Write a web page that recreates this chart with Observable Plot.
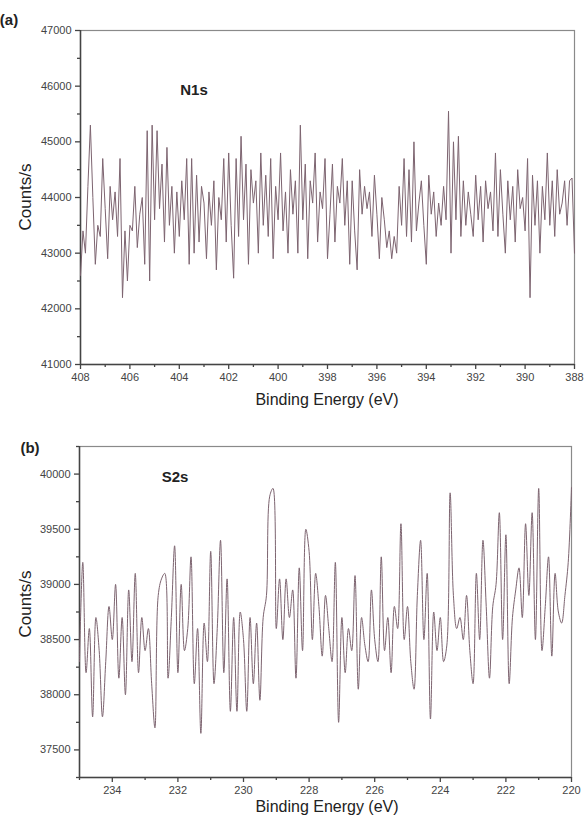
<!DOCTYPE html>
<html>
<head>
<meta charset="utf-8">
<script src="https://cdn.jsdelivr.net/npm/d3@7"></script>
<script src="https://cdn.jsdelivr.net/npm/@observablehq/plot@0.6"></script>
<style>
  html, body { margin: 0; padding: 0; background: #fff; }
  #wrap { width: 586px; }
  svg { display: block; }
</style>
</head>
<body>
<div id="wrap"></div>
<script>
// ---------- Panel (a): N1s ----------
const n1sStart = 408.0;   // binding energy of first value (eV)
const n1sStep = -0.1;     // eV step
const n1sCounts = [
  42600, 43400, 43000, 44200, 45300, 44000, 42800, 43500, 43300, 44700, // 408.0-407.1
  43800, 42900, 44200, 43600, 44100, 43300, 44700, 42200, 43400, 42500, // 407.0-406.1
  43500, 43400, 44200, 43100, 43700, 44000, 42800, 45200, 42500, 45300, // 406.0-405.1
  43600, 45200, 43800, 44600, 43200, 44900, 43500, 44200, 43000, 44100, // 405.0-404.1
  43300, 44300, 43600, 44700, 42800, 44700, 43000, 44400, 43200, 44200, // 404.0-403.1
  43900, 42900, 44100, 43500, 44300, 42700, 44000, 43600, 44700, 43200, // 403.0-402.1
  44800, 43500, 42550, 44700, 43300, 45100, 43600, 44600, 42800, 44500, // 402.0-401.1
  43900, 44300, 43000, 44800, 43500, 44400, 43300, 44700, 42900, 44200, // 401.0-400.1
  43600, 44800, 43400, 44100, 43000, 44500, 43700, 44300, 43000, 45300, // 400.0-399.1
  43600, 44600, 42900, 44300, 43900, 44800, 43200, 44100, 43800, 44700, // 399.0-398.1
  42900, 43700, 44600, 43200, 44200, 43900, 44700, 43500, 44300, 42800, // 398.0-397.1
  44300, 43400, 42700, 44500, 43700, 44200, 43800, 44100, 43300, 44400, // 397.0-396.1
  43700, 42900, 44000, 43600, 43100, 43400, 42900, 43300, 43000, 44200, // 396.0-395.1
  43500, 44700, 43300, 44500, 43200, 45000, 43400, 43900, 44300, 43500, // 395.0-394.1
  42800, 44400, 43700, 44100, 43300, 43900, 43500, 44200, 43600, 45550, // 394.0-393.1
  43000, 45000, 43600, 45100, 43300, 44300, 43500, 44100, 43700, 43300, // 393.0-392.1
  44400, 43600, 44200, 43200, 44300, 43800, 44100, 43400, 44800, 43300, // 392.0-391.1
  44500, 43700, 43000, 44300, 43600, 44200, 43200, 44500, 43800, 44000, // 391.0-390.1
  43400, 44700, 42200, 44400, 43500, 44300, 43000, 44200, 43600, 44800, // 390.0-389.1
  43500, 44300, 43300, 44500, 43700, 43900, 44300, 43500, 44300, 44350, // 389.0-388.1
  43000                                                                // 388.0
];
const n1sXTicks = [408, 406, 404, 402, 400, 398, 396, 394, 392, 390, 388];
const n1sXMinor = [407, 405, 403, 401, 399, 397, 395, 393, 391, 389];
const n1sYTicks = [41000, 42000, 43000, 44000, 45000, 46000, 47000];
const n1sYMinor = [41500, 42500, 43500, 44500, 45500, 46500];

// ---------- Panel (b): S2s ----------
const s2sStart = 235.0;
const s2sStep = -0.1;
const s2sCounts = [
  38300, 39200, 38200, 38600, 37800, 38700, 38400, 37800, 38300, 38800, // 235.0-234.1
  38500, 39000, 38150, 38700, 38000, 38950, 38300, 39100, 38200, 38700, // 234.0-233.1
  38400, 38600, 38100, 37700, 38900, 39050, 39100, 38150, 38700, 39350, // 233.0-232.1
  38200, 39000, 38400, 38600, 39250, 38100, 38600, 37650, 38650, 38300, // 232.0-231.1
  39300, 38100, 38600, 39400, 38200, 39050, 37850, 38700, 37850, 38750, // 231.0-230.1
  38500, 37850, 38700, 38100, 38650, 37950, 38700, 38900, 39800, 39870, // 230.0-229.1
  38600, 39050, 38500, 39050, 38700, 38950, 38150, 39150, 38400, 39500, // 229.0-228.1
  39300, 38500, 39100, 38800, 38350, 38900, 38600, 38300, 39200, 37750, // 228.0-227.1
  38700, 38200, 38600, 38400, 39080, 38050, 38700, 38450, 38300, 38950, // 227.0-226.1
  38500, 38300, 39250, 38400, 38700, 38200, 38800, 38600, 39550, 38500, // 226.0-225.1
  38800, 38300, 38050, 38900, 39400, 38500, 39100, 37780, 38750, 38400, // 225.0-224.1
  38700, 38300, 38450, 39830, 38900, 38600, 38700, 38500, 38900, 38400, // 224.0-223.1
  38100, 39100, 38500, 39400, 38800, 38150, 38800, 39000, 39650, 38500, // 223.0-222.1
  39450, 38100, 38700, 38950, 39150, 38700, 39550, 38900, 39650, 38500, // 222.0-221.1
  39870, 38400, 38800, 39250, 38350, 39100, 38750, 38650, 38900, 39200, // 221.0-220.1
  39880                                                                // 220.0
];
const s2sXTicks = [234, 232, 230, 228, 226, 224, 222, 220];
const s2sXMinor = [235, 233, 231, 229, 227, 225, 223, 221];
const s2sYTicks = [37500, 38000, 38500, 39000, 39500, 40000];
const s2sYMinor = [37250, 37750, 38250, 38750, 39250, 39750, 40250];

const FONT = "'Liberation Sans', Arial, sans-serif";
const LINE = "#7d6470";
const AXIS = "#444";

function toRows(start, step, arr) {
  return arr.map((v, i) => ({e: +(start + i * step).toFixed(2), v}));
}

function panel(opts) {
  const rows = toRows(opts.start, opts.step, opts.counts);
  const svg = Plot.plot({
    width: 586,
    height: opts.height,
    marginTop: opts.mt,
    marginBottom: opts.mb,
    marginLeft: opts.ml,
    marginRight: opts.mr,
    style: {fontFamily: FONT, background: "#fff", overflow: "visible"},
    x: {domain: opts.xDomain},
    y: {domain: opts.yDomain},
    marks: [
      Plot.frame({stroke: "#8a8a8a", strokeWidth: 1.2}),
      Plot.ruleX([opts.xDomain[0]], {stroke: AXIS, strokeWidth: 1.5}),
      Plot.ruleY([opts.yDomain[0]], {stroke: AXIS, strokeWidth: 1.5}),
      Plot.line(rows, {x: "e", y: "v", stroke: LINE, strokeWidth: 1, curve: opts.curve}),
      Plot.axisX({ticks: opts.xTicks, tickSize: 5, tickFormat: d => String(d), fontSize: 11, color: "#444", label: null, tickPadding: 4, stroke: AXIS, strokeWidth: 1.3}),
      Plot.axisX({ticks: opts.xMinor, tickSize: 3, tickFormat: () => "", label: null, stroke: AXIS, strokeWidth: 1.3}),
      Plot.axisY({ticks: opts.yTicks, tickSize: 5, tickFormat: d => String(d), fontSize: 11, color: "#444", label: null, tickPadding: 4, stroke: AXIS, strokeWidth: 1.3}),
      Plot.axisY({ticks: opts.yMinor, tickSize: 3, tickFormat: () => "", label: null, stroke: AXIS, strokeWidth: 1.3})
    ]
  });
  const s = d3.select(svg);
  const add = (x, y, txt, size, weight, rotate) => {
    const t = s.append("text")
      .attr("x", x).attr("y", y)
      .attr("font-family", FONT)
      .attr("font-size", size)
      .attr("font-weight", weight)
      .attr("fill", "#222")
      .text(txt);
    if (rotate) {
      t.attr("transform", `rotate(-90 ${x} ${y})`).attr("text-anchor", "middle");
    }
    return t;
  };
  add(opts.tag[0], opts.tag[1], opts.tagText, 15, "bold");
  add(opts.name[0], opts.name[1], opts.nameText, 15, "bold");
  add(opts.ylab[0], opts.ylab[1], "Counts/s", 17, "normal", true);
  add(opts.xlab[0], opts.xlab[1], "Binding Energy (eV)", 16, "normal").attr("text-anchor", "middle");
  return svg;
}

const wrap = document.getElementById("wrap");
wrap.appendChild(panel({
  start: n1sStart, step: n1sStep, counts: n1sCounts,
  height: 408, mt: 30, mb: 44, ml: 80, mr: 12,
  xDomain: [408, 388], yDomain: [41000, 47000],
  xTicks: n1sXTicks, xMinor: n1sXMinor, yTicks: n1sYTicks, yMinor: n1sYMinor,
  curve: "linear",
  tag: [9, 25], tagText: "(a)",
  name: [194, 95], nameText: "N1s",
  ylab: [31, 197], xlab: [327, 405]
}));
wrap.appendChild(panel({
  start: s2sStart, step: s2sStep, counts: s2sCounts,
  height: 410, mt: 38, mb: 41, ml: 79, mr: 15,
  xDomain: [235, 220], yDomain: [37250, 40250],
  xTicks: s2sXTicks, xMinor: s2sXMinor, yTicks: s2sYTicks, yMinor: s2sYMinor,
  curve: "catmull-rom",
  tag: [30, 45], tagText: "(b)",
  name: [175, 74], nameText: "S2s",
  ylab: [31, 196], xlab: [327, 404]
}));
</script>
</body>
</html>
